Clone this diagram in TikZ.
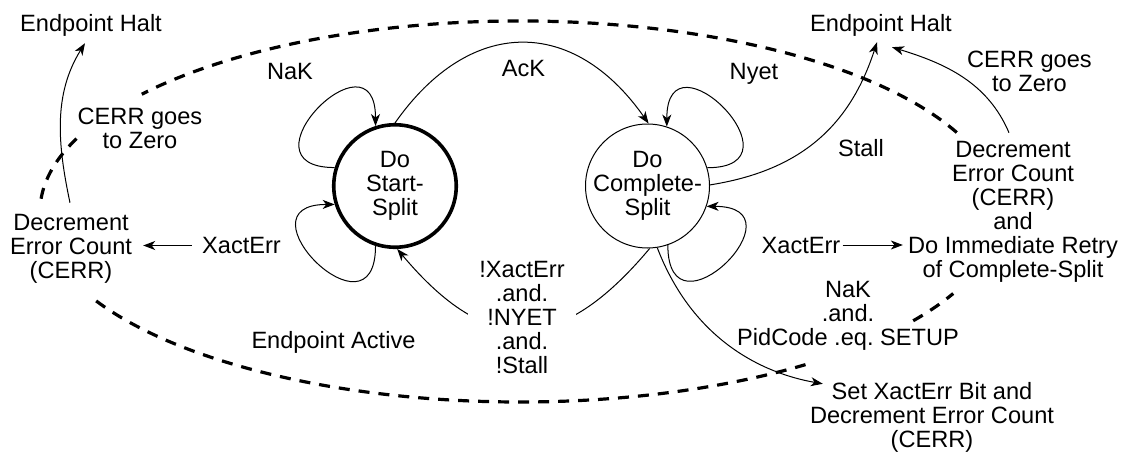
\documentclass[tikz,border=0pt]{standalone}
\usepackage{fontspec}
\setmainfont{Liberation Sans}
\usetikzlibrary{arrows.meta}
\newcommand{\dfont}{\fontsize{23.6}{24}\selectfont\frenchspacing}
\begin{document}
\begin{tikzpicture}[x=1pt,y=1pt,
  lbl/.style={font=\dfont, align=center, inner sep=2pt},
  state/.style={circle, draw, font=\dfont, align=center, inner sep=-3pt},
  conn/.style={line width=1pt, -{Stealth[length=12pt,width=9pt,inset=3.5pt]}},
  dashring/.style={line width=3.2pt, dash pattern=on 11pt off 9pt}]
\useasboundingbox (0,0) rectangle (1125,451);
% states
\node[state, line width=3.6pt, minimum size=122.5pt] (ss) at (395,265) {Do\\Start-\\Split};
\node[state, line width=1pt, minimum size=124pt] (cs) at (647.5,265) {Do\\Complete-\\Split};
% labels / outcome nodes
\node[lbl] (ehL) at (91,426) {Endpoint Halt};
\node[lbl] (ehR) at (881,426) {Endpoint Halt};
\node[lbl] (nak) at (290,379.5) {NaK};
\node[lbl] (ack) at (523.5,382.5) {AcK};
\node[lbl] (nyet) at (754,377) {Nyet};
\node[lbl] (stall) at (861,302.5) {Stall};
\node[lbl] (cerrL) at (140,323) {CERR goes\\to Zero};
\node[lbl] (cerrR) at (1029.5,379.5) {CERR goes\\to Zero};
\node[lbl] (decL) at (71,202.5) {Decrement\\Error Count\\(CERR)};
\node[lbl] (xeL) at (241.5,205.5) {XactErr};
\node[lbl] (xeR) at (801,206) {XactErr};
\node[lbl] (decR) at (1013,239.5) {Decrement\\Error Count\\(CERR)\\and\\Do Immediate Retry\\of Complete-Split};
\node[lbl] (nakR) at (848,135.5) {NaK\\.and.\\PidCode .eq. SETUP};
\node[lbl] (setx) at (932,33.5) {Set XactErr Bit and\\Decrement Error Count\\(CERR)};
% dashed ring (Endpoint Active boundary)
\coordinate (ec) at (520,239.5);
\draw[dashring] (ec) ++(24.5:480 and 190.5) arc[start angle=24.5, end angle=142, x radius=480, y radius=190.5];
\draw[dashring] (ec) ++(157.5:480 and 190.5) arc[start angle=157.5, end angle=176.5, x radius=480, y radius=190.5];
\draw[dashring] (ec) ++(208:480 and 190.5) arc[start angle=208, end angle=306.5, x radius=480, y radius=190.5];
\draw[dashring] (ec) ++(325:480 and 190.5) arc[start angle=325, end angle=334.5, x radius=480, y radius=190.5];
\node[lbl] (active) at (333.5,109) {Endpoint Active};
% self loops
\draw[conn] (ss.163) .. controls +(-100,0) and +(0,100) .. (ss.108);
\draw[conn] (ss.252) .. controls +(0,-100) and +(-100,0) .. (ss.197);
\draw[conn] (cs.17) .. controls +(100,0) and +(0,100) .. (cs.72);
\draw[conn] (cs.289) .. controls +(0,-100) and +(100,0) .. (cs.341);
% transitions between states
\draw[conn] (ss.90) .. controls +(75,107) and +(-75,107) .. (cs.89);
\draw[conn] (cs.272) .. controls +(230:140) and +(310:140) .. (ss.272);
\node[lbl, fill=white, inner xsep=11pt] (notx) at (522,133.5) {!XactErr\\.and.\\!NYET\\.and.\\!Stall};
% outcomes
\draw[conn] (cs.1) .. controls +(9:90) and +(252:90) .. ([xshift=-4pt,yshift=-4pt]ehR.south);
\draw[conn] ([xshift=-4pt,yshift=6pt]decR.north) .. controls +(113:55) and +(-17:55) .. ([xshift=11pt,yshift=-9pt]ehR.south);
\draw[conn] ([xshift=-1pt,yshift=9pt]decL.north) .. controls +(102:60) and +(238:60) .. ([xshift=-6pt,yshift=-5pt]ehL.south);
\draw[conn, shorten <=8pt, shorten >=9pt] (xeL.west) -- (xeL.west -| decL.east);
\draw[conn, shorten >=3pt] (xeR.east) -- (xeR.east -| decR.west);
\draw[conn] (cs.279) .. controls +(291:100) and +(170:60) .. ([xshift=15pt,yshift=-3.5pt]setx.north west);
\end{tikzpicture}
\end{document}
